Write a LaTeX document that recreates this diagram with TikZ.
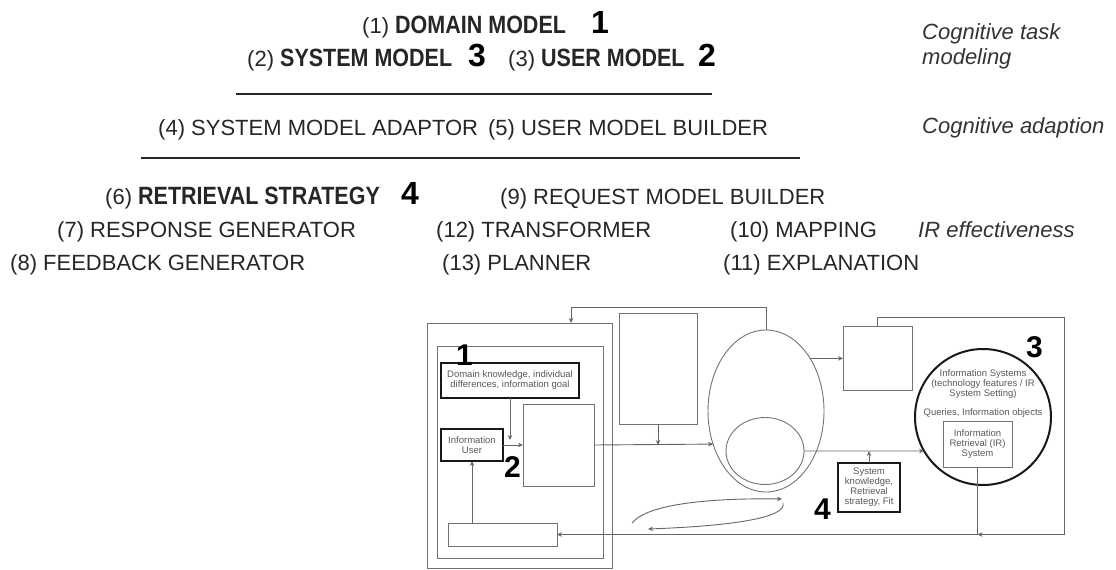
\documentclass[tikz,border=0pt]{standalone}
\usepackage{fontspec}
\setmainfont{Liberation Sans}
\newfontfamily\condsans[FakeStretch=0.86]{Liberation Sans}
\usetikzlibrary{arrows.meta,shapes.geometric}

\tikzset{
  lbl/.style={anchor=base west, inner sep=0pt, text=black!85,
    font=\fontsize{22}{26}\selectfont},
  side/.style={anchor=base west, inner sep=0pt, text=black!80,
    font=\fontsize{22}{26}\selectfont\itshape},
  bignum/.style={anchor=base west, inner sep=0pt, text=black,
    font=\fontsize{32}{32}\selectfont\bfseries},
  tagnum/.style={anchor=base west, inner sep=0pt, text=black,
    font=\fontsize{30}{30}\selectfont\bfseries},
  rule/.style={draw=black!85, line width=1.4pt},
  wire/.style={draw=black!60, line width=0.9pt},
  arr/.style={wire, -{Stealth[length=5pt,width=4.5pt]}},
  plainbox/.style={draw=black!55, line width=0.9pt, inner sep=0pt, outer sep=0pt},
  heavybox/.style={draw=black!90, line width=2pt, inner sep=0pt, outer sep=0pt,
    align=center, text=black!65, font=\fontsize{9.5}{10}\selectfont},
  tiny/.style={align=center, inner sep=0pt, text=black!65,
    font=\fontsize{9.5}{10}\selectfont},
}
\newcommand{\modelname}[1]{{\condsans\bfseries\fontsize{25}{26}\selectfont #1}}

\begin{document}
\begin{tikzpicture}[x=1pt,y=-1pt]
\useasboundingbox (0,0) rectangle (1116,570);

% ---------- list of model components ----------
\node[lbl] (r1) at (362,33) {(1) \modelname{DOMAIN MODEL}};
\node[bignum] (r1n) at (591,33) {1};
\node[lbl] (r2a) at (247,66) {(2) \modelname{SYSTEM MODEL}};
\node[bignum] (r2an) at (468,66) {3};
\node[lbl] (r2b) at (508,66) {(3) \modelname{USER MODEL}};
\node[bignum] (r2bn) at (698,66) {2};
\draw[rule] (236,94) -- (712,94);

\node[lbl] (r4) at (158,135) {(4) SYSTEM MODEL ADAPTOR\hspace{10pt}(5) USER MODEL BUILDER};
\draw[rule] (141,158) -- (800,158);

\node[lbl] (r6a) at (105,204) {(6) \modelname{RETRIEVAL STRATEGY}};
\node[bignum] (r6an) at (401,204) {4};
\node[lbl] (r6b) at (500,204) {(9) REQUEST MODEL BUILDER};
\node[lbl] (r7a) at (57,237) {(7) RESPONSE GENERATOR};
\node[lbl] (r7b) at (436,237) {(12) TRANSFORMER};
\node[lbl] (r7c) at (730,237) {(10) MAPPING};
\node[lbl] (r8a) at (10,270) {(8) FEEDBACK GENERATOR};
\node[lbl] (r8b) at (442,270) {(13) PLANNER};
\node[lbl] (r8c) at (723,270) {(11) EXPLANATION};

% ---------- level captions ----------
\node[side] (c1) at (922,39) {Cognitive task};
\node[side] (c1b) at (922,64) {modeling};
\node[side] (c2) at (922,133) {Cognitive adaption};
\node[side] (c3) at (918,237) {IR effectiveness};

% ---------- process diagram ----------
\node[plainbox, minimum width=185pt, minimum height=245pt] (outer) at (519.5,445.5) {};
\node[plainbox, minimum width=166pt, minimum height=212pt] (inner) at (520,452) {};
\node[heavybox, minimum width=138pt, minimum height=35pt] (dom) at (510,380.5)
  {Domain knowledge, individual\\differences, information goal};
\node[heavybox, minimum width=62pt, minimum height=32pt] (user) at (472,445)
  {Information\\User};
\node[plainbox, minimum width=71pt, minimum height=82pt] (big) at (558.5,445) {};
\node[plainbox, minimum width=109pt, minimum height=23pt] (bb) at (502.5,534.5) {};
\node[plainbox, minimum width=78pt, minimum height=111pt] (tall) at (658,368.5) {};
\node[plainbox, ellipse, minimum width=116pt, minimum height=162pt] (eye) at (766,411) {};
\node[plainbox, ellipse, minimum width=78pt, minimum height=67pt] (pupil) at (765,451) {};
\node[plainbox, minimum width=69pt, minimum height=64pt] (sq) at (877.5,358) {};
\node[heavybox, circle, minimum size=136pt] (sys) at (983,417) {};
\node[tiny] (systxt) at (983,384)
  {Information Systems\\(technology features / IR\\System Setting)};
\node[tiny] (qtxt) at (983,413) {Queries, Information objects};
\node[plainbox, minimum width=69pt, minimum height=46pt, tiny] (ir) at (977.5,444)
  {Information\\Retrieval (IR)\\System};
\node[heavybox, minimum width=62pt, minimum height=49pt] (know) at (869,487.5)
  {System\\knowledge,\\Retrieval\\strategy, Fit};

\node[tagnum] (t1) at (456,365) {1};
\node[tagnum] (t2) at (504,477) {2};
\node[tagnum] (t3) at (1026,357) {3};
\node[tagnum] (t4) at (814,519) {4};

% connectors
\coordinate (topL) at (571,307);
\draw[arr] (eye.north) |- (topL) -- (topL |- outer.north);
\draw[arr] (dom.south) -- ++(0,42);
\draw[arr] (user.east) -- (big.west);
\draw[arr] (big.east) -- (eye.212.7);
\draw[arr] (tall.south) -- (tall.south |- big.east);
\draw[arr] (eye.50.3) -- (eye.50.3 -| sq.west);
\draw[arr] (pupil.east) -- (sys.210);
\draw[arr] (know.north) -- (know.north |- pupil.east);

\coordinate (rtop) at (1064,317);
\coordinate (rbot) at (1064,534.5);
\draw[wire] (sq.north) |- (rtop) -- (rbot);
\draw[arr] (rbot) -- (ir.south |- rbot);
\draw[wire] (ir.south) -- (ir.south |- rbot);
\draw[arr] (ir.south |- rbot) -- (bb.east);
\draw[arr] (bb.north -| user.south) -- (user.south);

\coordinate (cA) at (632,523);
\coordinate (cB) at (782,499);
\coordinate (cC) at (783,503);
\coordinate (cD) at (648,529);
\draw[arr] (cA) .. controls (648,503) and (715,498) .. (cB);
\draw[arr] (cC) .. controls (787,518) and (730,526) .. (cD);
\end{tikzpicture}
\end{document}
